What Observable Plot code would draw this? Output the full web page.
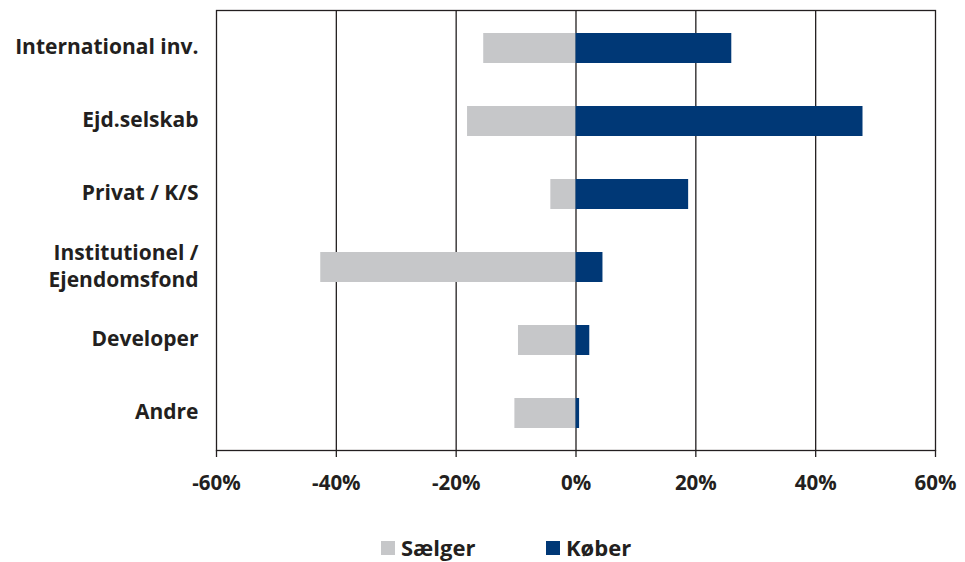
<!DOCTYPE html>
<html>
<head>
<meta charset="utf-8">
<script src="https://cdn.jsdelivr.net/npm/d3@7"></script>
<script src="https://cdn.jsdelivr.net/npm/@observablehq/plot@0.6"></script>
<style>
  html, body { margin: 0; padding: 0; background: #fff; overflow: hidden; }
  #chart { width: 965px; height: 562px; position: relative; font-family: "Open Sans", sans-serif; }
  .legend { position: absolute; top: 533px; left: 0; width: 965px; height: 29px; font-weight: bold; font-size: 22px; line-height: 29px; color: #231f20; }
  .legend span.item { position: absolute; top: 0; height: 29px; display: flex; align-items: center; }
  .legend span.sw { display: inline-block; width: 14px; height: 14px; margin-right: 6px; }
</style>
</head>
<body>
<div id="chart"></div>
<script>
const categories = ["International inv.", "Ejd.selskab", "Privat / K/S", "Institutionel /\nEjendomsfond", "Developer", "Andre"];
const saelger = [-15.4, -18.1, -4.2, -42.6, -9.6, -10.2];
const koeber = [26.0, 47.9, 18.8, 4.5, 2.3, 0.6];
const xTicks = [-60, -40, -20, 0, 20, 40, 60];
const gridTicks = [-40, -20, 0, 20, 40];
const seriesNames = ["Sælger", "Køber"];
const seriesColors = ["#c6c7c9", "#003876"];

const rows = [];
categories.forEach((c, i) => {
  rows.push({cat: c, series: seriesNames[0], value: saelger[i]});
  rows.push({cat: c, series: seriesNames[1], value: koeber[i]});
});

const plot = Plot.plot({
  width: 965,
  height: 500,
  marginLeft: 216,
  marginRight: 30,
  marginTop: 10,
  marginBottom: 50,
  style: {fontFamily: "Open Sans, sans-serif", color: "#231f20", background: "#fff"},
  x: {domain: [-60, 60], label: null},
  y: {domain: categories, paddingInner: 0.59, paddingOuter: 0.295, label: null},
  color: {domain: seriesNames, range: seriesColors},
  marks: [
    Plot.ruleX(gridTicks, {stroke: "#231f20", strokeWidth: 1.3}),
    Plot.barX(rows, {y: "cat", x1: 0, x2: "value", fill: "series"}),
    Plot.frame({stroke: "#231f20", strokeWidth: 1.3}),
    Plot.axisX({ticks: xTicks, tickFormat: d => d + "%", tickSize: 7, tickPadding: 18,
      fontSize: 20.5, fontWeight: "bold", stroke: "#231f20", strokeWidth: 1.3, label: null}),
    Plot.axisY({tickSize: 0, tickPadding: 18, dy: -3, fontSize: 21, fontWeight: "bold", lineHeight: 1.3, label: null})
  ]
});
document.getElementById("chart").appendChild(plot);

const legend = document.createElement("div");
legend.className = "legend";
const lx = [381, 546];
seriesNames.forEach((n, i) => {
  const it = document.createElement("span");
  it.className = "item";
  it.style.left = lx[i] + "px";
  it.innerHTML = `<span class="sw" style="background:${seriesColors[i]}"></span>${n}`;
  legend.appendChild(it);
});
document.getElementById("chart").appendChild(legend);
</script>
</body>
</html>
